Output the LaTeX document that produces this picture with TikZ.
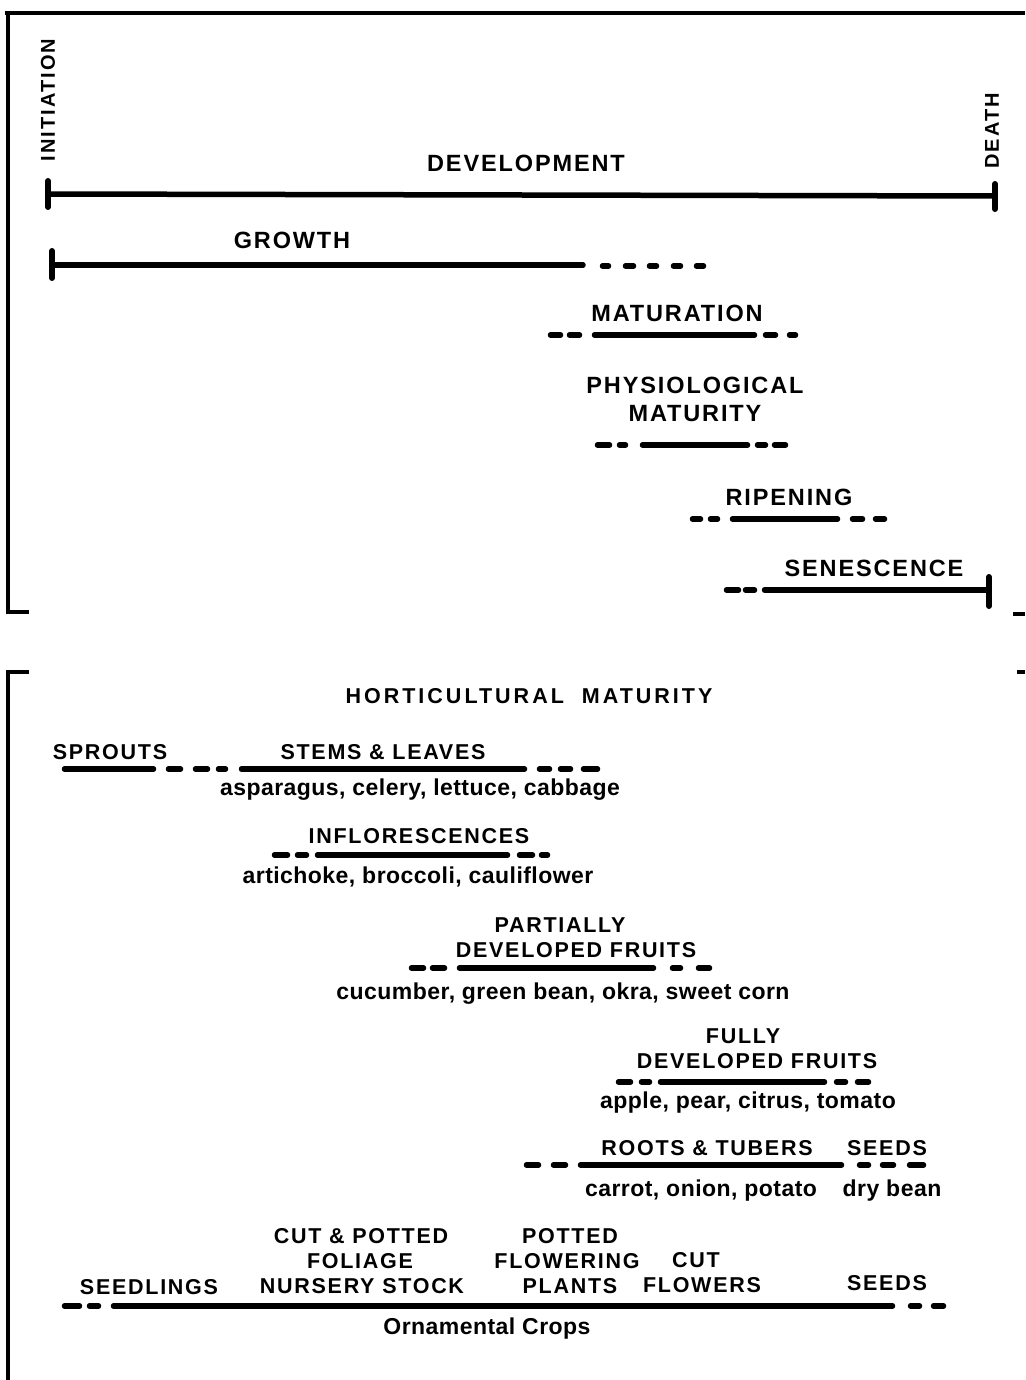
\documentclass[tikz,border=0pt]{standalone}
\usepackage{fontspec}
\newfontfamily\capfont{Liberation Sans}[LetterSpace=8]
\newfontfamily\rotfont{Liberation Sans}[LetterSpace=10]
\newfontfamily\hortfont{Liberation Sans}[LetterSpace=14]
\newfontfamily\lowfont{Liberation Sans}[LetterSpace=2]
\newcommand\tlsegs[2]{\foreach \a/\b in {#2}{\draw[bar] (\a+2.5,#1) -- (\b-2.5,#1);}}
\begin{document}
\begin{tikzpicture}[x={(1pt,0pt)},y={(0pt,-1pt)},
  bigcap/.style={font=\capfont\bfseries\fontsize{23.5}{26}\selectfont, inner sep=0pt, anchor=base},
  smallcap/.style={font=\capfont\bfseries\fontsize{21.5}{24}\selectfont, inner sep=0pt, anchor=base},
  horttext/.style={font=\hortfont\bfseries\fontsize{21.5}{24}\selectfont, inner sep=0pt, anchor=base},
  lowtext/.style={font=\lowfont\bfseries\fontsize{23}{26}\selectfont, inner sep=0pt, anchor=base},
  rottext/.style={font=\rotfont\bfseries\fontsize{20}{22}\selectfont, inner sep=0pt, rotate=90},
  bar/.style={line width=5.5pt, line cap=round},
  endtick/.style={line width=6pt, line cap=round},
  frame/.style={line width=3.2pt}]
\fill[white] (0,0) rectangle (1025,1380);
\useasboundingbox (0,0) rectangle (1025,1380);

% frames
\draw[frame] (5,13) -- (1025,13);
\draw[frame] (8,13) -- (8,612) -- (29,612);
\draw[frame] (1013,614) -- (1025,614);
\draw[frame] (29,672) -- (8,672) -- (8,1380);
\draw[frame] (1017,672) -- (1025,672);

% ---------- upper panel ----------
\node[rottext] (init) at (48,100) {INITIATION};
\node[rottext] (death) at (992,131) {DEATH};
\node[bigcap] (dev) at (526,172) {DEVELOPMENT};
\draw[bar] (48,194) -- (995,196);
\draw[endtick] (48,181) -- (48,207);
\draw[endtick] (995,184) -- (995,209);

\node[bigcap] (growth) at (292,248.5) {GROWTH};
\draw[bar] (52,265) -- (583,265);
\draw[endtick] (52,251) -- (52,278);
\tlsegs{266}{600/611,623/636,647/659,671/683,694/706}

\node[bigcap] (matur) at (677,321) {MATURATION};
\tlsegs{335}{548/563,567/582,592/757,763/778,787/798}

\node[bigcap] (phys1) at (695,393.5) {PHYSIOLOGICAL};
\node[bigcap] (phys2) at (695,421.5) {MATURITY};
\tlsegs{445}{595/612,617/628,640/750,755/768,772/788}

\node[bigcap] (ripen) at (789,505) {RIPENING};
\tlsegs{519}{690/703,708/720,730/840,850/865,873/887}

\node[bigcap] (senes) at (874,576) {SENESCENCE};
\tlsegs{590}{724/741,743/757,762/988}
\draw[endtick] (989,577) -- (989,606);

% ---------- lower panel ----------
\node[horttext] (hort) at (529,703) {HORTICULTURAL\ \ MATURITY};

\node[smallcap] (sprouts) at (110,759) {SPROUTS};
\node[smallcap] (stems) at (383,759) {STEMS \& LEAVES};
\tlsegs{769}{62/156,166/183,193/210,216/228,239/527,537/552,558/573,581/600}
\node[lowtext] (stemsex) at (420,795) {asparagus, celery, lettuce, cabbage};

\node[smallcap] (infl) at (419,843) {INFLORESCENCES};
\tlsegs{855}{272/290,295/309,315/510,517/535,539/550}
\node[lowtext] (inflex) at (418,883) {artichoke, broccoli, cauliflower};

\node[smallcap] (part1) at (560,932) {PARTIALLY};
\node[smallcap] (part2) at (576,957) {DEVELOPED FRUITS};
\tlsegs{968}{409/426,430/447,457/656,670/683,696/712}
\node[lowtext] (partex) at (563,999) {cucumber, green bean, okra, sweet corn};

\node[smallcap] (full1) at (743,1043) {FULLY};
\node[smallcap] (full2) at (757,1068) {DEVELOPED FRUITS};
\tlsegs{1082}{616/633,639/652,658/827,834/848,855/871}
\node[lowtext] (fullex) at (748,1108) {apple, pear, citrus, tomato};

\node[smallcap] (roots) at (707,1155) {ROOTS \& TUBERS};
\node[smallcap] (seeds1) at (887,1155) {SEEDS};
\tlsegs{1165}{524/541,551/568,578/844,857/871,880/896,907/926}
\node[lowtext] (rootsex) at (701,1196) {carrot, onion, potato};
\node[lowtext] (seedsex) at (892,1196) {dry bean};

\node[smallcap] (cut1) at (361,1243) {CUT \& POTTED};
\node[smallcap] (cut2) at (360,1268) {FOLIAGE};
\node[smallcap] (cut3) at (362,1293) {NURSERY STOCK};
\node[smallcap] (seedl) at (149,1294) {SEEDLINGS};
\node[smallcap] (pot1) at (570,1243) {POTTED};
\node[smallcap] (pot2) at (567,1268) {FLOWERING};
\node[smallcap] (pot3) at (570,1293) {PLANTS};
\node[smallcap] (cutf1) at (696,1267) {CUT};
\node[smallcap] (cutf2) at (702,1292) {FLOWERS};
\node[smallcap] (seeds2) at (887,1290) {SEEDS};
\tlsegs{1306}{62/82,87/101,111/895,908/922,931/946}
\node[lowtext] (orn) at (487,1334) {Ornamental Crops};
\end{tikzpicture}
\end{document}
